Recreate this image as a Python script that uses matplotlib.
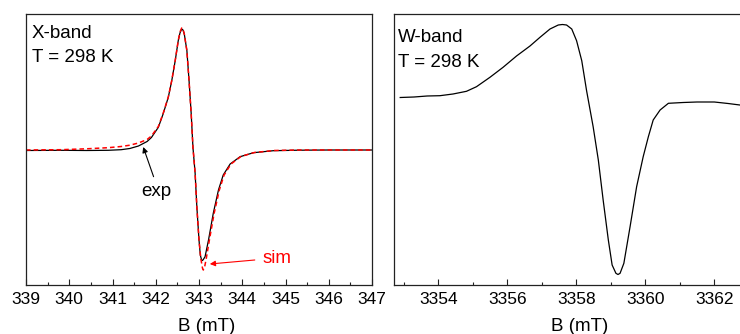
import matplotlib
matplotlib.use("Agg")
import matplotlib.pyplot as plt
from matplotlib.ticker import MultipleLocator

plt.rcParams["font.family"] = ["Liberation Sans", "DejaVu Sans"]

# ------------------------
# X-band: experiment and simulation (arb. units)
# ------------------------
xband_B = [339.0, 339.8, 340.4, 340.9, 341.2, 341.4, 341.6, 341.8, 341.9, 342.06,
           342.17, 342.29, 342.37, 342.45, 342.52, 342.56, 342.60, 342.63, 342.66,
           342.72, 342.77, 342.82, 342.86, 342.91, 342.95, 343.00, 343.03, 343.06,
           343.08, 343.10, 343.14, 343.22, 343.33, 343.45, 343.56, 343.72, 343.95,
           344.26, 344.72, 345.3, 346.0, 347.0]
xband_exp = [-0.5, -0.3, -0.5, -0.3, 0.3, 1.5, 4.0, 8.5, 12.5, 22.7,
             36.0, 52.7, 69.3, 89.3, 109.3, 117.0, 121.0, 120.0, 116.0,
             99.3, 69.3, 36.0, 2.7, -23.0, -56.7, -90.0, -105.0, -110.0,
             -110.5, -109.5, -106.7, -90.0, -63.3, -40.0, -25.0, -14.0, -6.7,
             -2.7, -0.7, -0.2, 0.0, 0.0]

sim_B = [339.0, 339.8, 340.4, 340.9, 341.2, 341.4, 341.6, 341.8, 341.9, 342.06,
         342.17, 342.29, 342.37, 342.45, 342.52, 342.56, 342.60, 342.63, 342.66,
         342.72, 342.77, 342.82, 342.86, 342.91, 342.95, 343.00, 343.04, 343.08,
         343.10, 343.13, 343.17, 343.24, 343.35, 343.47, 343.58, 343.74, 343.97,
         344.28, 344.74, 345.3, 346.0, 347.0]
sim_val = [0.0, 0.3, 1.2, 2.3, 3.5, 4.8, 7.0, 10.5, 14.0, 23.5,
           36.5, 53.0, 69.5, 89.5, 109.5, 118.0, 122.0, 121.0, 116.0,
           99.3, 69.3, 36.0, 2.7, -23.0, -56.7, -90.0, -108.0, -118.0,
           -120.0, -117.0, -108.0, -90.0, -63.3, -40.0, -25.0, -14.0, -6.5,
           -2.5, -0.5, 0.0, 0.0, 0.0]

# ------------------------
# W-band: experiment (arb. units)
# ------------------------
wband_B = [3352.90, 3353.30, 3353.68, 3354.05, 3354.43, 3354.82, 3355.11, 3355.50,
           3355.88, 3356.27, 3356.66, 3356.95, 3357.24, 3357.48, 3357.60, 3357.72,
           3357.87, 3358.01, 3358.16, 3358.30, 3358.49, 3358.64, 3358.78, 3358.93,
           3359.04, 3359.15, 3359.21, 3359.27, 3359.38, 3359.56, 3359.75, 3359.94,
           3360.09, 3360.23, 3360.43, 3360.67, 3361.10, 3361.50, 3362.00, 3362.40,
           3362.74]
wband_val = [2.5, 3.0, 4.0, 4.3, 6.0, 8.7, 13.3, 22.7,
             32.7, 44.0, 54.0, 62.7, 71.0, 75.0, 75.5, 75.0,
             71.0, 59.3, 39.3, 9.3, -26.7, -60.0, -100.0, -140.0,
             -165.0, -173.3, -174.5, -173.3, -163.3, -126.7, -86.7, -56.7,
             -36.7, -20.0, -10.0, -3.3, -2.5, -2.0, -2.0, -3.5,
             -5.0]

fig = plt.figure(figsize=(7.4, 3.34), dpi=100)

def style_axis(axis):
    axis.tick_params(axis="x", which="both", direction="in", labelsize=12.5,
                     pad=5, width=0.8, color="#222222")
    axis.tick_params(axis="x", which="major", length=4)
    axis.tick_params(axis="x", which="minor", length=2)
    axis.tick_params(axis="y", which="both", left=False, labelleft=False)
    for sp in axis.spines.values():
        sp.set_linewidth(0.9)
        sp.set_color("#222222")
    axis.set_xlabel("B (mT)", fontsize=13.5)
    axis.xaxis.set_label_coords(0.522, -0.122)

# ------------------------
# Left panel: X-band
# ------------------------
ax1 = fig.add_axes([26 / 740, 1 - 285 / 334, 346 / 740, 271 / 334])
ax1.plot(xband_B, xband_exp, color="black", lw=0.9)
ax1.plot(sim_B, sim_val, color="red", lw=1.1, ls=(0, (3, 2)))
ax1.set_xlim(339, 347)
ax1.set_ylim(-135, 136)
ax1.xaxis.set_major_locator(MultipleLocator(1))
ax1.xaxis.set_minor_locator(MultipleLocator(0.5))
style_axis(ax1)

ax1.text(0.0165, 0.9096, "X-band", transform=ax1.transAxes, fontsize=13.5, va="baseline")
ax1.text(0.0165, 0.824, "T = 298 K", transform=ax1.transAxes, fontsize=13.5, va="baseline")

ax1.annotate("", xy=(341.71, 3), xytext=(341.95, -26.7),
             arrowprops=dict(arrowstyle="-|>", color="black", lw=0.8, mutation_scale=8,
                             shrinkA=0, shrinkB=0))
ax1.text(342.02, -46, "exp", fontsize=13.5, ha="center", va="baseline")

ax1.annotate("", xy=(343.25, -114), xytext=(344.29, -110),
             arrowprops=dict(arrowstyle="-|>", color="red", lw=0.8, mutation_scale=8,
                             shrinkA=0, shrinkB=0))
ax1.text(344.80, -112.7, "sim", fontsize=13.5, color="red", ha="center", va="baseline")

# ------------------------
# Right panel: W-band (runs past the figure edge)
# ------------------------
ax2 = fig.add_axes([394 / 740, 1 - 285 / 334, 354.8 / 740, 271 / 334])
ax2.plot(wband_B, wband_val, color="black", lw=0.9)
ax2.set_xlim(3352.72, 3363.0)
ax2.set_ylim(-185, 86)
ax2.xaxis.set_major_locator(MultipleLocator(2))
ax2.xaxis.set_minor_locator(MultipleLocator(1))
style_axis(ax2)

ax2.text(0.012, 0.898, "W-band", transform=ax2.transAxes, fontsize=13.5, va="baseline")
ax2.text(0.012, 0.8055, "T = 298 K", transform=ax2.transAxes, fontsize=13.5, va="baseline")

fig.savefig("out.png", dpi=100)
